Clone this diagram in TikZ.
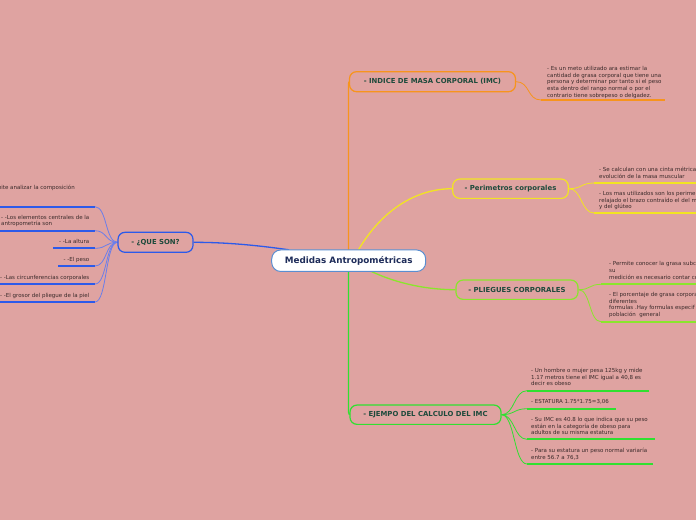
\documentclass[tikz,border=0pt]{standalone}
\usepackage{fontspec}
\setmainfont{DejaVu Sans}
\usetikzlibrary{backgrounds}
\definecolor{bg}{HTML}{DFA3A1}
\definecolor{corange}{HTML}{F7941D}
\definecolor{cyellow}{HTML}{F2E422}
\definecolor{clime}{HTML}{8AE62C}
\definecolor{cgreen}{HTML}{30E030}
\definecolor{cblue}{HTML}{2C5AEA}
\definecolor{cbluel}{HTML}{6A7EEA}
\definecolor{titlec}{HTML}{1D4A3B}
\definecolor{leafc}{HTML}{3A2A2A}
\definecolor{centerc}{HTML}{1F2D5A}
\definecolor{centerb}{HTML}{5A8ED0}
\tikzset{
  topic/.style={draw, rounded corners=7pt, line width=1.2pt, inner sep=0pt,
    font=\fontsize{6.9}{8}\selectfont\bfseries, text=titlec},
  leaf/.style={inner sep=0pt, align=left, font=\fontsize{5.5}{6.6}\selectfont, text=leafc},
  uline/.style={line width=2pt},
  conn/.style={line width=0.8pt},
  branch/.style={line width=1.3pt}
}
\begin{document}
\begin{tikzpicture}[x=1pt,y=-1pt]
\useasboundingbox (0,0) rectangle (696,520);

% central node
\node[draw=centerb, fill=white, line width=1pt, rounded corners=9pt, inner sep=0pt,
  minimum width=154pt, minimum height=21.5pt, text=centerc,
  font=\fontsize{8.8}{10}\selectfont\bfseries] (m) at (348.7,260.7) {Medidas Antropométricas};

% topics
\node[topic, draw=corange, minimum width=166pt, minimum height=20pt] (imc) at (432.5,81.7) {- INDICE DE MASA CORPORAL (IMC)};
\node[topic, draw=cyellow, minimum width=115.6pt, minimum height=19.3pt] (pe) at (510.5,188.7) {- Perimetros corporales};
\node[topic, draw=clime, minimum width=122pt, minimum height=19.3pt] (pl) at (517,289.7) {- PLIEGUES CORPORALES};
\node[topic, draw=cgreen, minimum width=151pt, minimum height=19.3pt] (ej) at (425.5,414.7) {- EJEMPO DEL CALCULO DEL IMC};
\node[topic, draw=cblue, minimum width=75pt, minimum height=20pt] (que) at (155.5,242.3) {- ¿QUE SON?};

% leaves right
\node[leaf, anchor=north west] (imc1) at (547,66.3) {- Es un meto utilizado ara estimar la\\cantidad de grasa corporal que tiene una\\persona y determinar por tanto si el peso\\esta dentro del rango normal o por el\\contrario tiene sobrepeso o delgadez.};
\node[leaf, anchor=north west] (pe1) at (599,167.3) {- Se calculan con una cinta métrica\\evolución de la masa muscular};
\node[leaf, anchor=north west] (pe2) at (599,191.3) {- Los mas utilizados son los perime\\relajado el brazo contraído el del m\\y del glúteo};
\node[leaf, anchor=north west] (pl1) at (609,261.5) {- Permite conocer la grasa subc\\su\\medición es necesario contar co};
\node[leaf, anchor=north west] (pl2) at (609,292.3) {- El porcentaje de grasa corpora\\diferentes\\formulas .Hay formulas especif\\población\ \ general};
\node[leaf, anchor=north west] (ej1) at (531,368.3) {- Un hombre o mujer pesa 125kg y mide\\1.17 metros tiene el IMC igual a 40,8 es\\decir es obeso};
\node[leaf, anchor=north west] (ej2) at (531,399.6) {- ESTATURA 1.75*1.75=3,06};
\node[leaf, anchor=north west] (ej3) at (531,417.3) {- Su IMC es 40.8 lo que indica que su peso\\están en la categoría de obeso para\\adultos de su misma estatura};
\node[leaf, anchor=north west] (ej4) at (531,448) {- Para su estatura un peso normal variaría\\entre 56.7 a 76,3};

% leaves left
\node[leaf, anchor=north east] (q1) at (75,184.6) {- Permite analizar la composición};
\node[leaf, anchor=north east] (q2) at (89.5,215) {- -Los elementos centrales de la\\antropometría son};
\node[leaf, anchor=north east] (q3) at (89.5,239.3) {- -La altura};
\node[leaf, anchor=north east] (q4) at (89.5,257.6) {- -El peso};
\node[leaf, anchor=north east] (q5) at (89.5,275) {- -Las circunferencias corporales};
\node[leaf, anchor=north east] (q6) at (89.5,293) {- -El grosor del pliegue de la piel};

% underline end points
\coordinate (i1a) at (541,100); \coordinate (i1b) at (665,100);
\coordinate (p1a) at (594,183); \coordinate (p1b) at (697,183);
\coordinate (p2a) at (594,213); \coordinate (p2b) at (697,213);
\coordinate (l1a) at (601,284.3); \coordinate (l1b) at (697,284.3);
\coordinate (l2a) at (601,321.7); \coordinate (l2b) at (697,321.7);
\coordinate (e1a) at (527,390.7); \coordinate (e1b) at (649,390.7);
\coordinate (e2a) at (527,408.7); \coordinate (e2b) at (616,408.7);
\coordinate (e3a) at (527,439.3); \coordinate (e3b) at (655,439.3);
\coordinate (e4a) at (527,464); \coordinate (e4b) at (653,464);
\coordinate (q1a) at (-1,206.7); \coordinate (q1b) at (95,206.7);
\coordinate (q2a) at (-1,230.7); \coordinate (q2b) at (95,230.7);
\coordinate (q3a) at (53,248.3); \coordinate (q3b) at (95,248.3);
\coordinate (q4a) at (58,266); \coordinate (q4b) at (95,266);
\coordinate (q5a) at (-1,284); \coordinate (q5b) at (95,284);
\coordinate (q6a) at (-1,302); \coordinate (q6b) at (95,302);
\coordinate (ys) at (358,250.5);
\coordinate (ls) at (371,271.3);
\coordinate (bs) at (289,249.8);
\coordinate (os) at (348.5,250.5);
\coordinate (gs) at (348.5,271);
\coordinate (oe) at (348.5,84);
\coordinate (ge) at (348.5,412);

\begin{pgfonlayer}{background}
\fill[bg] (0,0) rectangle (696,520);
% main branches
\draw[branch, draw=corange] (os) -- (oe) -- (imc.west);
\draw[branch, draw=cgreen] (gs) -- (ge) -- (ej.west);
\draw[branch, draw=cyellow] (ys) .. controls (383,208) and (418,188.7) .. (pe.west);
\draw[branch, draw=clime] (ls) .. controls (398,284) and (428,289.7) .. (pl.west);
\draw[branch, draw=cblue] (bs) .. controls (255,245) and (225,242.3) .. (que.east);
% orange leaf
\draw[conn, corange] (imc.east) .. controls +(14,0) and +(-14,0) .. (i1a);
\draw[uline, corange] (i1a) -- (i1b);
% yellow leaves
\draw[conn, cyellow] (pe.east) .. controls +(13,0) and +(-13,0) .. (p1a);
\draw[conn, cyellow] (pe.east) .. controls +(13,0) and +(-13,0) .. (p2a);
\draw[uline, cyellow] (p1a) -- (p1b);
\draw[uline, cyellow] (p2a) -- (p2b);
% lime leaves
\draw[conn, clime] (pl.east) .. controls +(12,0) and +(-12,0) .. (l1a);
\draw[conn, clime] (pl.east) .. controls +(12,0) and +(-12,0) .. (l2a);
\draw[uline, clime] (l1a) -- (l1b);
\draw[uline, clime] (l2a) -- (l2b);
% green leaves
\foreach \n in {1,2,3,4}{
  \draw[conn, cgreen] (ej.east) .. controls +(13,0) and +(-13,0) .. (e\n a);
  \draw[uline, cgreen] (e\n a) -- (e\n b);
}
% blue leaves
\foreach \n in {1,...,6}{
  \draw[conn, cbluel] (que.west) .. controls +(-12,0) and +(12,0) .. (q\n b);
  \draw[uline, cblue] (q\n a) -- (q\n b);
}
\end{pgfonlayer}
\end{tikzpicture}
\end{document}
